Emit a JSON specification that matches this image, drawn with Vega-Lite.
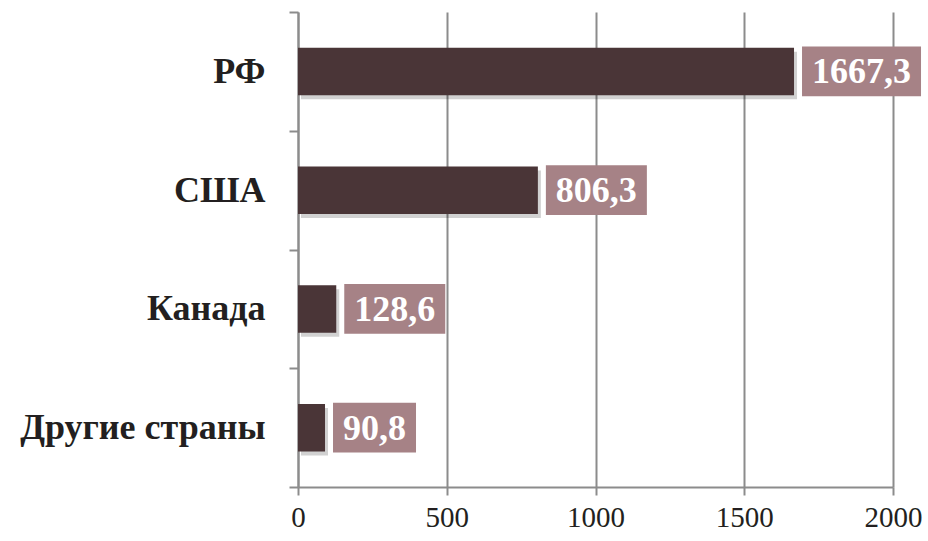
{
  "$schema": "https://vega.github.io/schema/vega-lite/v6.json",
  "autosize": {"type": "none"},
  "width": 595,
  "height": 475,
  "padding": {"left": 298, "top": 12, "right": 35, "bottom": 54},
  "background": "white",
  "data": {"values": [
    {"country": "РФ", "value": 1667.3},
    {"country": "США", "value": 806.3},
    {"country": "Канада", "value": 128.6},
    {"country": "Другие страны", "value": 90.8}
  ]},
  "encoding": {
    "y": {
      "field": "country", "type": "nominal", "sort": null, "title": null,
      "scale": {"paddingInner": 0, "paddingOuter": 0},
      "axis": {
        "tickBand": "extent", "tickSize": 9, "tickColor": "#8c8c8c", "tickWidth": 2,
        "domainColor": "#8c8c8c", "domainWidth": 2,
        "labelFont": "Liberation Serif", "labelFontWeight": "bold", "labelFontSize": 36,
        "labelColor": "#231f20", "labelPadding": 24, "labelLimit": 400, "grid": false
      }
    }
  },
  "layer": [
    {
      "mark": {"type": "bar", "color": "#000000", "opacity": 0.18, "xOffset": 3, "yOffset": 4, "height": {"band": 0.4}},
      "encoding": {
        "x": {
          "field": "value", "type": "quantitative", "title": null,
          "scale": {"domain": [0, 2000], "nice": false},
          "axis": {
            "values": [0, 500, 1000, 1500, 2000], "grid": true, "gridColor": "#8c8c8c", "gridWidth": 2,
            "tickSize": 8, "tickColor": "#8c8c8c", "tickWidth": 2,
            "domainColor": "#8c8c8c", "domainWidth": 2,
            "labelFont": "Liberation Serif", "labelFontSize": 29, "labelColor": "#231f20",
            "labelPadding": 8, "format": "d", "labelFlush": false
          }
        }
      }
    },
    {
      "mark": {"type": "bar", "color": "#4a3537", "height": {"band": 0.4}},
      "encoding": {"x": {"field": "value", "type": "quantitative"}}
    },
    {
      "mark": {"type": "rect", "color": "#a68286", "xOffset": 8, "height": {"band": 0.42},
        "x2Offset": {"expr": "8 + (length(format(datum.value, '.1f')) - 1) * 18 + 29"}},
      "encoding": {
        "x": {"field": "value", "type": "quantitative"},
        "x2": {"field": "value"}
      }
    },
    {
      "mark": {"type": "text", "align": "left", "baseline": "middle", "dx": 18, "dy": 1,
        "font": "Liberation Serif", "fontWeight": "bold", "fontSize": 36, "color": "white"},
      "encoding": {
        "x": {"field": "value", "type": "quantitative"},
        "text": {"field": "value", "type": "quantitative", "format": ".1f"}
      }
    }
  ],
  "config": {
    "view": {"stroke": null},
    "locale": {"number": {"decimal": ",", "thousands": " ", "grouping": [3], "currency": ["", ""]}}
  }
}
